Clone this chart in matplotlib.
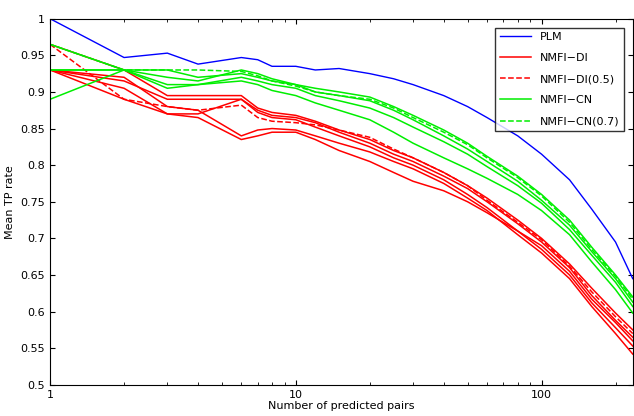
import numpy as np
import matplotlib.pyplot as plt

x = [1, 2, 3, 4, 6, 7, 8, 10, 12, 15, 20, 25, 30, 40, 50, 60, 80, 100, 130, 160, 200, 235]

plm = [1.0, 0.947, 0.953, 0.938, 0.947, 0.944, 0.935, 0.935, 0.93, 0.932, 0.925, 0.918, 0.91, 0.895, 0.88,
       0.865, 0.84, 0.815, 0.78, 0.74, 0.695, 0.645]

red = [
    [0.965, 0.93, 0.895, 0.895, 0.895, 0.878, 0.872, 0.868, 0.86, 0.848, 0.835, 0.82, 0.81, 0.79, 0.772, 0.755, 0.725, 0.70, 0.665, 0.632, 0.598, 0.575],
    [0.93, 0.915, 0.89, 0.89, 0.89, 0.875, 0.868, 0.865, 0.858, 0.845, 0.83, 0.815, 0.805, 0.785, 0.768, 0.75, 0.72, 0.695, 0.66, 0.622, 0.588, 0.565],
    [0.93, 0.905, 0.87, 0.87, 0.89, 0.872, 0.865, 0.862, 0.852, 0.84, 0.825, 0.81, 0.80, 0.78, 0.76, 0.742, 0.71, 0.685, 0.65, 0.612, 0.578, 0.553],
    [0.93, 0.92, 0.88, 0.875, 0.84, 0.848, 0.85, 0.848, 0.84, 0.83, 0.818, 0.805, 0.795, 0.775, 0.755, 0.738, 0.705, 0.68, 0.645, 0.607, 0.57, 0.542],
    [0.93, 0.89, 0.87, 0.865, 0.835, 0.84, 0.845, 0.845, 0.835, 0.82, 0.805, 0.79, 0.778, 0.765, 0.75, 0.735, 0.71, 0.69, 0.655, 0.617, 0.585, 0.56],
]
red_dash = [0.965, 0.89, 0.88, 0.875, 0.882, 0.865, 0.86, 0.858, 0.855, 0.848, 0.838, 0.822, 0.81, 0.79, 0.772, 0.752, 0.722, 0.698, 0.662, 0.627, 0.593, 0.57]

green = [
    [0.965, 0.93, 0.93, 0.92, 0.925, 0.92, 0.915, 0.91, 0.905, 0.9, 0.893, 0.88, 0.868, 0.848, 0.83, 0.812, 0.785, 0.76, 0.725, 0.688, 0.65, 0.62],
    [0.93, 0.93, 0.92, 0.915, 0.93, 0.925, 0.918, 0.91, 0.9, 0.895, 0.888, 0.875, 0.862, 0.84, 0.822, 0.805, 0.778, 0.752, 0.718, 0.682, 0.645, 0.613],
    [0.93, 0.93, 0.905, 0.91, 0.92, 0.915, 0.91, 0.905, 0.895, 0.888, 0.878, 0.865, 0.852, 0.832, 0.815, 0.798, 0.772, 0.748, 0.712, 0.677, 0.64, 0.607],
    [0.89, 0.93, 0.91, 0.91, 0.915, 0.91, 0.902, 0.895, 0.885, 0.875, 0.862, 0.845, 0.83, 0.81, 0.795, 0.782, 0.76, 0.738, 0.705, 0.668, 0.63, 0.598],
]
green_dash = [0.965, 0.93, 0.93, 0.93, 0.928, 0.922, 0.915, 0.908, 0.9, 0.895, 0.89, 0.878, 0.865, 0.845, 0.828, 0.81, 0.783, 0.758, 0.722, 0.685, 0.648, 0.617]

fig, ax = plt.subplots(figsize=(6.34, 4.16), dpi=100)
fig.subplots_adjust(left=0.079, right=0.998, top=0.955, bottom=0.075)
ax.plot(x, plm, color='blue', lw=1, label='PLM')
for i, r in enumerate(red):
    ax.plot(x, r, color='red', lw=1.1, label='NMFI\u2212DI' if i == 0 else None)
ax.plot(x, red_dash, color='red', lw=1.1, ls='--', label='NMFI\u2212DI(0.5)')
for i, g in enumerate(green):
    ax.plot(x, g, color='#00ee00', lw=1.1, label='NMFI\u2212CN' if i == 0 else None)
ax.plot(x, green_dash, color='#00ee00', lw=1.1, ls='--', label='NMFI\u2212CN(0.7)')

ax.set_xscale('log')
ax.set_xlim(1, 235)
ax.set_ylim(0.5, 1.0)
ax.set_yticks(np.arange(0.5, 1.01, 0.05))
ax.set_yticklabels(['0.5', '0.55', '0.6', '0.65', '0.7', '0.75', '0.8', '0.85', '0.9', '0.95', '1'])
ax.set_xticks([1, 10, 100])
ax.set_xticklabels(['1', '10', '100'])
ax.tick_params(direction='in', which='both', top=True, right=True, labelsize=8)
ax.set_xlabel('Number of predicted pairs', fontsize=8, labelpad=1)
ax.set_ylabel('Mean TP rate', fontsize=8)
leg = ax.legend(loc='upper right', fontsize=8, fancybox=False, edgecolor='black',
                handlelength=2.8, labelspacing=1.0, borderaxespad=0.8)
plt.savefig('out.png')
